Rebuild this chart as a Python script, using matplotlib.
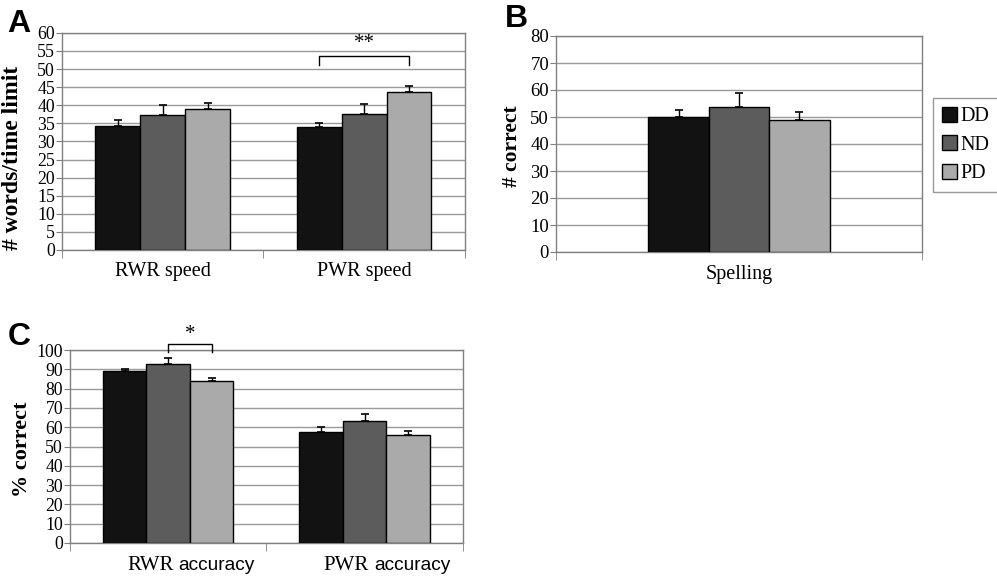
import matplotlib.pyplot as plt
import matplotlib.patches as mpatches
import numpy as np

# Datos
grupos = ['DD', 'ND', 'PD']
colores = ['#121212', '#5c5c5c', '#aaaaaa']

catA = ['RWR speed', 'PWR speed']
mediaA = [[34.2, 33.9], [37.4, 37.7], [39.0, 43.7]]
errA = [[1.6, 1.1], [2.7, 2.7], [1.7, 1.5]]

catB = ['Spelling']
mediaB = [[49.9], [53.8], [48.8]]
errB = [[2.8], [5.2], [3.1]]

catC = ['RWR', 'PWR']
mediaC = [[89.2, 57.6], [92.7, 63.0], [84.1, 56.2]]
errC = [[0.9, 2.3], [3.3, 3.8], [1.4, 1.9]]

plt.rcParams['font.family'] = 'Liberation Serif'

fig = plt.figure(figsize=(9.97, 5.76), dpi=100)


# Dibuja un panel de barras agrupadas estilo Excel
def panel(rect, cats, medias, errs, ancho, ymax, paso, ylabel, tam_y, tam_tick,
          pos_label):
    ax = fig.add_axes(rect)
    x = np.arange(len(cats))
    for i in range(len(grupos)):
        pos = x + (i - 1) * ancho
        ax.bar(pos, medias[i], ancho, color=colores[i], edgecolor='black',
               linewidth=1, zorder=3)
        ax.errorbar(pos, medias[i], yerr=[np.zeros(len(cats)), errs[i]],
                    fmt='none', ecolor='black', elinewidth=1, capsize=2.8,
                    capthick=1.2, zorder=4)
    ax.set_xlim(-0.5, len(cats) - 0.5)
    ax.set_ylim(0, ymax)
    ax.set_yticks(np.arange(0, ymax + 1, paso))
    ax.yaxis.grid(True, color='#9a9a9a', linewidth=1, zorder=0)
    ax.set_axisbelow(True)
    ax.set_xticks(x)
    ax.set_xticklabels(cats, fontsize=14.5)
    ax.set_xticks(np.arange(-0.5, len(cats), 1), minor=True)
    ax.tick_params(axis='x', which='major', length=0, pad=9)
    ax.tick_params(axis='x', which='minor', length=6, color='#808080')
    ax.tick_params(axis='y', length=4, color='#808080', labelsize=tam_tick,
                   pad=1)
    for s in ax.spines.values():
        s.set_color('#808080')
        s.set_linewidth(1)
    ax.set_ylabel(ylabel, fontsize=tam_y, fontweight='bold')
    ax.yaxis.set_label_coords(*pos_label)
    return ax


axA = panel([0.0622, 0.566, 0.404, 0.377], catA, mediaA, errA, 0.223, 60, 5,
            '# words/time limit', 17, 12.8, (-0.097, 0.424))
axB = panel([0.5577, 0.5625, 0.367, 0.375], catB, mediaB, errB, 0.165, 80, 10,
            '# correct', 15.5, 13.5, (-0.093, 0.49))
axC = panel([0.0702, 0.0573, 0.394, 0.335], catC, mediaC, errC, 0.221, 100, 10,
            '% correct', 16, 12.8, (-0.097, 0.487))

# Etiquetas de C: "RWR"/"PWR" en serif y "accuracy" en sans
axC.set_xticklabels([])
for i, cat in enumerate(catC):
    axC.annotate(cat, xy=(i, 0), xycoords=('data', 'axes fraction'),
                 xytext=(-41, -27), textcoords='offset pixels', ha='left',
                 va='baseline', fontsize=15)
    axC.annotate('accuracy', xy=(i, 0), xycoords=('data', 'axes fraction'),
                 xytext=(10, -27), textcoords='offset pixels', ha='left',
                 va='baseline', fontsize=13.8, family='Liberation Sans')

# Letras de los paneles
for letra, px, py in [('A', 7, 32), ('B', 505, 27), ('C', 8, 345)]:
    fig.text(px / 997, 1 - py / 576, letra, family='Liberation Sans',
             fontweight='bold', fontsize=23, va='baseline', ha='left')

# Corchetes de significancia
axA.plot([1 - 0.223, 1 - 0.223, 1 + 0.223, 1 + 0.223], [51.2, 53.7, 53.7, 51.2],
         color='black', linewidth=1, zorder=5)
axA.text(1, 54.3, '**', ha='center', va='bottom', fontsize=15)

axC.plot([0, 0, 0.221, 0.221], [98.8, 102.9, 102.9, 98.8], color='black',
         linewidth=1, clip_on=False, zorder=5)
axC.text(0.11, 103.3, '*', ha='center', va='bottom', fontsize=15)

# Leyenda
handles = [mpatches.Patch(facecolor=colores[i], edgecolor='black', label=grupos[i])
           for i in range(3)]
fig.legend(handles=handles, loc='upper left', bbox_to_anchor=(0.936, 0.83),
           fontsize=14.5, frameon=True, fancybox=False, edgecolor='#808080',
           handlelength=0.75, handleheight=0.75, handletextpad=0.15,
           labelspacing=0.45, borderpad=0.45, borderaxespad=0)

fig.savefig('out.png', dpi=100)
